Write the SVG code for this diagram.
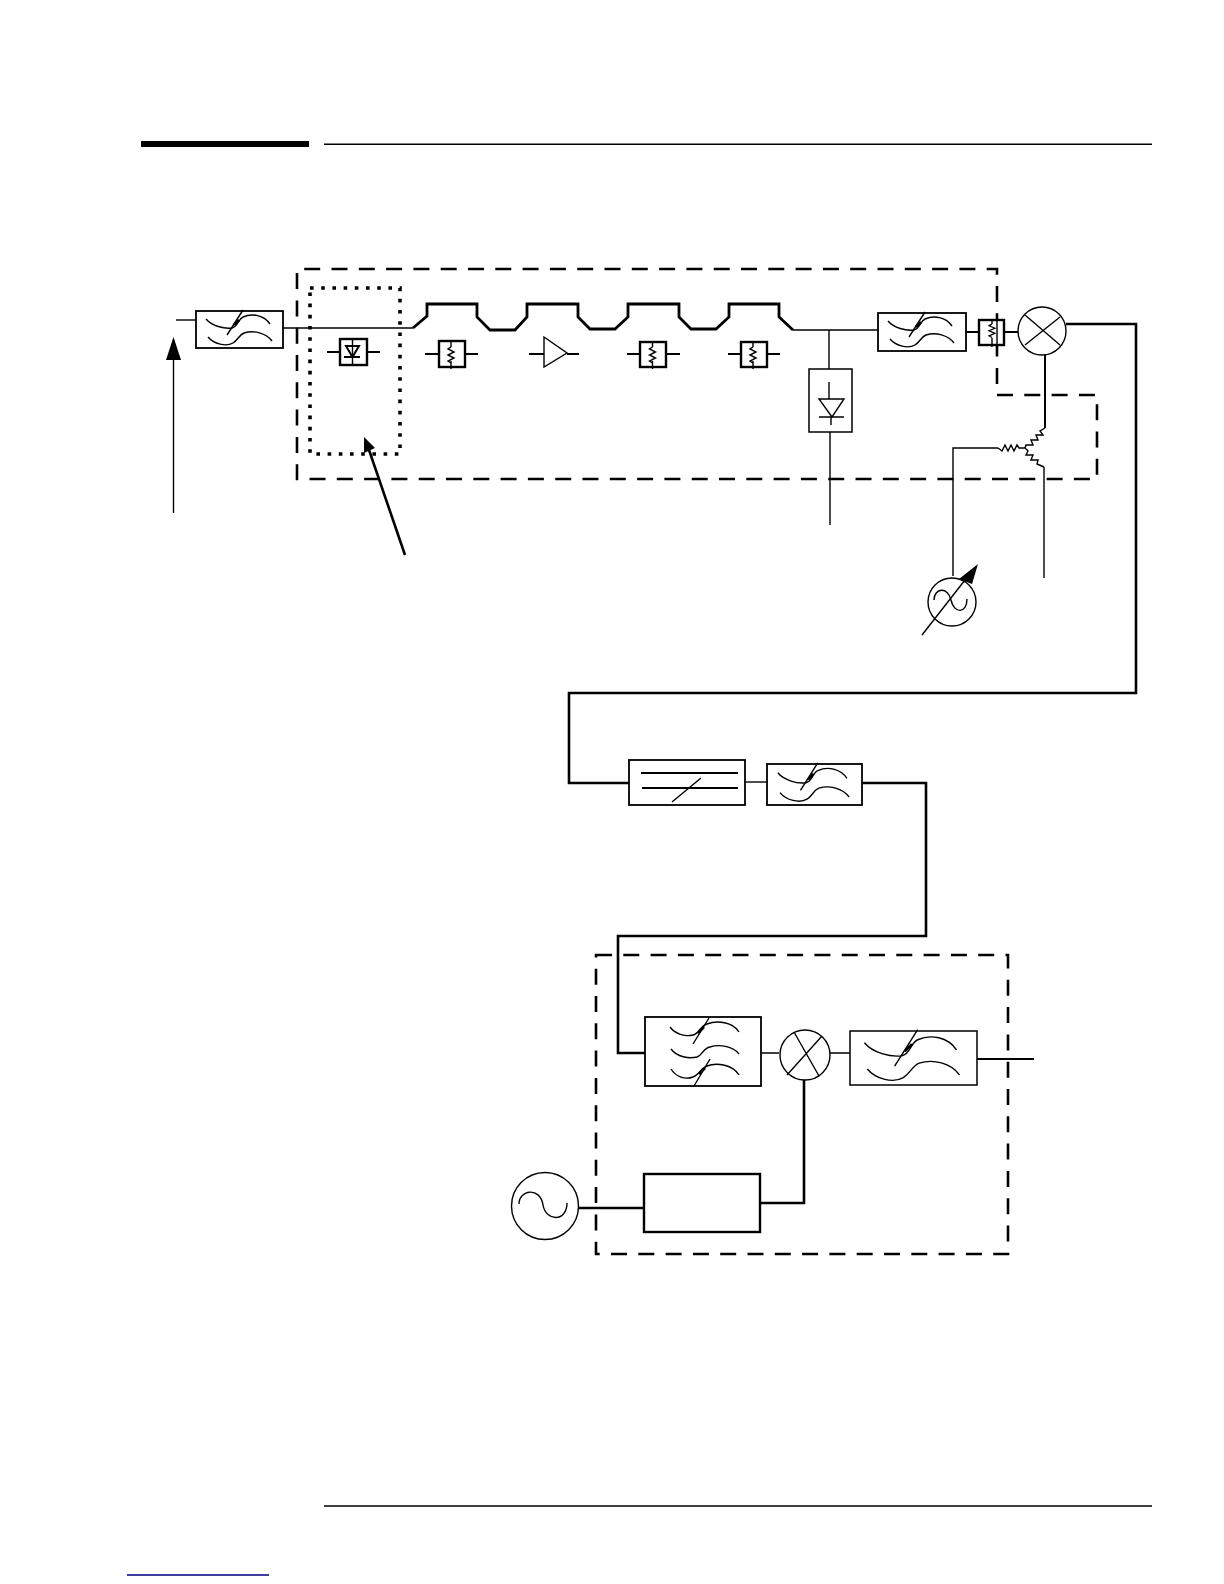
<svg xmlns="http://www.w3.org/2000/svg" xmlns:xlink="http://www.w3.org/1999/xlink" width="1224" height="1584" viewBox="0 0 1224 1584">
<style>
.l{fill:none;stroke:#000;stroke-width:1.4}
.m{fill:none;stroke:#000;stroke-width:2}
.w{fill:none;stroke:#000;stroke-width:2.6}
.h{fill:none;stroke:#000;stroke-width:2.8}
.box{fill:#fff;stroke:#000;stroke-width:1.5}
.boxh{fill:#fff;stroke:#000;stroke-width:2.4}
.dash{fill:none;stroke:#000;stroke-width:2.6;stroke-dasharray:16 11.3}
.dot{fill:none;stroke:#000;stroke-width:3.6;stroke-dasharray:3.6 7.6}
.c{fill:none;stroke:#000;stroke-width:1.4;vector-effect:non-scaling-stroke}
.b{fill:none;stroke:#000;stroke-width:2.6;vector-effect:non-scaling-stroke}
.circ{fill:#fff;stroke:#000;stroke-width:1.4}
.head{fill:#000;stroke:none}
</style>
<defs>
<g id="f">
<path class="c" d="M10 8C16 15 28 18 36 17C42 16 42 8 47 6C56 2 68 4 74 13"/>
<path class="c" d="M12 26C18 33 30 36 37 32C42 29 43 24 48 22C58 19 70 22 76 30"/>
<path class="c" d="M31 24L47 -1"/>
<path class="b" d="M38 14L43 9"/>
</g>
<path id="z" class="l" d="M0 0l-3 2 6 3 -6 3 6 3 -6 3 3 2"/>
</defs>

<rect x="141" y="141" width="168" height="6" fill="#000"/>
<path d="M324 144.3H1152M324 1506H1152" fill="none" stroke="#000" stroke-width="1.4"/>
<path d="M127 1575H269" fill="none" stroke="#000080" stroke-width="1.4"/>

<g id="enclosures">
<path class="dash" d="M997 395H1097V479H297V269H997V395"/>
<path class="dot" d="M310 288H400V454H310Z"/>
<path class="dash" d="M596 955H1008V1254H596Z"/>
</g>

<g id="connectors">
<path class="l" d="M176 320H196"/>
<path class="l" d="M173.5 358V513"/>
<path class="head" d="M173.5 337L181 360H166Z"/>
<path class="l" d="M283 328H413"/>
<path class="h" d="M413 328L427 316V304H477V317L490 330H515L527 317V304H578V317L590 329H615L628 317V304H679V317L691 329H716L729 317V304H779V317L793 330"/>
<path class="l" d="M793 330H878"/>
<path class="l" d="M829 330V369"/>
<path class="l" d="M830 432V525"/>
<path class="m" d="M966 332H979M1004 332H1018"/>
<path class="w" d="M1066 324H1136V693H569V783H633"/>
<path class="l" d="M745 782H767"/>
<path class="w" d="M862 783H926V936H618V1053H649"/>
<path class="l" d="M761 1053H779M830 1053H851"/>
<path class="m" d="M977 1059H1034"/>
<path class="w" d="M579 1208H644"/>
<path class="w" d="M760 1203H804V1080"/>
<path class="m" d="M1045 355V428"/>
<path class="l" d="M998 448H953V576"/>
<path class="l" d="M1044 467V578"/>
<path class="w" d="M405 555L368 447"/>
<path class="head" d="M364 437L375 448L364 453Z"/>
</g>

<g id="filter-input"><rect class="box" x="196" y="311" width="87" height="37" style="stroke-width:1.8"/><use href="#f" xlink:href="#f" x="196" y="311"/></g>

<g id="detector-1">
<rect class="boxh" x="340" y="339" width="27" height="26"/>
<path class="m" d="M327 352H340M367 352H380M344 357H360"/>
<path class="l" d="M352.5 339V365"/>
<path class="m" d="M346 346H359L352.5 357Z"/>
</g>

<g id="attenuator-1">
<rect class="boxh" x="439" y="341" width="26" height="26"/>
<path class="m" d="M425 354H439M465 354H478"/>
<path class="l" d="M451 341V347M451 361V369"/>
<use href="#z" xlink:href="#z" x="451" y="347"/>
</g>

<g id="amplifier">
<path class="m" d="M529 354H544M567 354H579"/>
<path class="l" d="M544 337V367L567 353Z"/>
</g>

<g id="attenuator-2">
<rect class="boxh" x="640" y="342" width="26" height="25"/>
<path class="m" d="M627 354H640M666 354H680"/>
<path class="l" d="M652.500 342V347M652.500 361V369"/>
<use href="#z" xlink:href="#z" x="652.500" y="347"/>
</g>

<g id="attenuator-3">
<rect class="boxh" x="741" y="342" width="26" height="25"/>
<path class="m" d="M728 354H741M767 354H780"/>
<path class="l" d="M753 342V347M753 361V369"/>
<use href="#z" xlink:href="#z" x="753" y="347"/>
</g>

<g id="detector-2">
<rect class="box" x="809" y="369" width="43" height="63"/>
<path class="l" d="M829 382V399M819 399H844L832 417ZM819 417H844M831 417V425"/>
</g>

<g id="filter-2"><rect class="box" x="878" y="313" width="88" height="38" style="stroke-width:1.8"/><use href="#f" xlink:href="#f" x="878" y="313"/></g>

<g id="attenuator-4">
<rect class="boxh" x="979" y="320" width="25" height="25"/>
<path class="l" d="M992 320V324M992 338V347M997 320V345"/>
<use href="#z" xlink:href="#z" transform="translate(992 324) scale(1 .85)"/>
</g>

<g id="mixer-1">
<circle class="circ" cx="1042" cy="331" r="24"/>
<path class="l" d="M1025 315L1060 345M1060 317L1025 345"/>
</g>

<g id="y-attenuator">
<path class="l" d="M1045 428L1040 431 1043 435 1036 435 1038 440 1031 440 1033 445 1026 445 1025 448"/>
<path class="l" d="M1025 448L1028 451 1026 455 1033 455 1031 460 1038 460 1037 464 1044 467"/>
<path class="l" d="M998 448L1002 451 1005 445 1008 451 1011 445 1014 451 1017 445 1019 448H1025"/>
</g>

<g id="sweep-oscillator">
<circle class="circ" cx="952" cy="602" r="24"/>
<path class="l" d="M934 600C934 588 948 586 951 600C954 614 967 614 967 599"/>
<path class="l" d="M922 635L965 580"/>
<path class="head" d="M978 564L972 584L959 579Z"/>
</g>

<g id="filter-fixed">
<rect class="box" x="629" y="760" width="116" height="45" style="stroke-width:1.8"/>
<path class="m" d="M641 773H738M642 788H738"/>
<path class="l" d="M672 802L701 778"/>
</g>

<g id="filter-3"><rect class="box" x="767" y="764" width="95" height="41" style="stroke-width:1.8"/><use href="#f" xlink:href="#f" transform="translate(767 764) scale(1.08 1.1)"/></g>

<g id="filter-bank">
<rect class="box" x="645" y="1017" width="116" height="69" style="stroke-width:1.8"/>
<g transform="translate(645 1017)">
<path class="c" d="M25 10C30 17 40 20 48 18C54 17 55 9 62 7C72 3 88 5 94 15"/>
<path class="c" d="M26 32C32 40 44 42 52 40C58 38 58 31 65 30C74 27 88 29 94 37"/>
<path class="c" d="M26 52C31 60 40 63 48 60C54 58 56 51 62 49C72 45 88 48 94 58"/>
<path class="c" d="M48 27L64 1M49 69L65 42"/>
<path class="b" d="M53 16L59 10M54 57L60 51"/>
</g>
</g>

<g id="mixer-2">
<circle class="circ" cx="805" cy="1055" r="25"/>
<path class="l" d="M794 1032L819 1076M822 1036L787 1075"/>
</g>

<g id="filter-4"><rect class="box" x="850" y="1031" width="127" height="54"/><use href="#f" xlink:href="#f" transform="translate(850 1031) scale(1.44 1.46)"/></g>

<g id="multiplier"><rect class="boxh" x="644" y="1174" width="116" height="58"/></g>

<g id="reference-oscillator">
<circle class="circ" cx="545" cy="1206" r="33.500"/>
<path class="l" d="M519 1204C519 1190 540 1186 543 1205C546 1222 567 1222 567 1203"/>
</g>
</svg>
